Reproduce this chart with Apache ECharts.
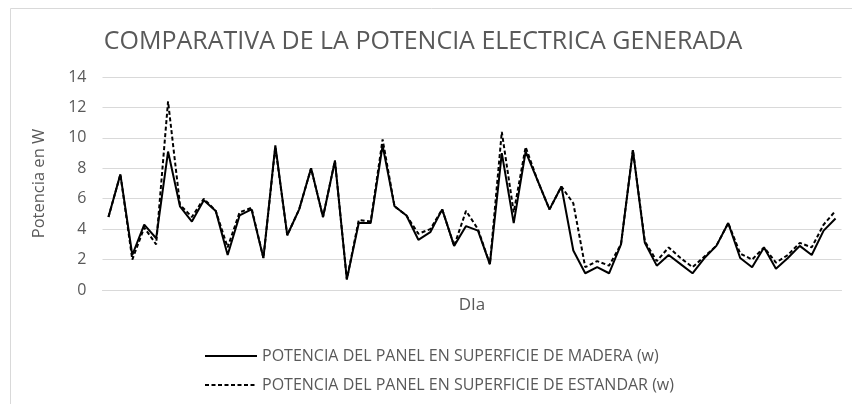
<!DOCTYPE html>
<html>
<head>
<meta charset="utf-8">
<script src="https://cdn.jsdelivr.net/npm/echarts@6/dist/echarts.min.js"></script>
<style>
  html, body { margin: 0; padding: 0; background: #fff; }
  #main { width: 852px; height: 404px; }
</style>
</head>
<body>
<div id="main"></div>
<script>
// dias 1..62
var dias = [];
for (var i = 1; i <= 62; i++) dias.push(String(i));

var madera = [4.8, 7.6, 2.3, 4.3, 3.4, 9.1, 5.5, 4.5, 5.9, 5.2,
  2.3, 4.9, 5.3, 2.1, 9.5, 3.6, 5.3, 8.0, 4.8, 8.5,
  0.7, 4.4, 4.4, 9.5, 5.5, 4.9, 3.3, 3.8, 5.3, 2.9,
  4.2, 3.9, 1.7, 9.0, 4.4, 9.1, 7.2, 5.3, 6.8, 2.6,
  1.1, 1.5, 1.1, 3.0, 9.2, 3.1, 1.6, 2.3, 1.7, 1.1,
  2.1, 2.9, 4.4, 2.1, 1.5, 2.8, 1.4, 2.1, 2.9, 2.3,
  3.9, 4.7];

var estandar = [4.8, 7.6, 2.0, 4.1, 3.0, 12.4, 5.6, 4.8, 6.0, 5.2,
  2.8, 5.1, 5.4, 2.1, 9.4, 3.6, 5.3, 8.0, 4.8, 8.5,
  0.7, 4.6, 4.5, 9.9, 5.5, 4.9, 3.7, 4.0, 5.3, 2.9,
  5.2, 4.0, 1.7, 10.4, 5.1, 9.4, 7.2, 5.3, 6.8, 5.7,
  1.5, 1.9, 1.6, 3.0, 9.2, 3.2, 1.9, 2.8, 2.1, 1.5,
  2.2, 2.9, 4.4, 2.4, 2.0, 2.8, 1.8, 2.3, 3.1, 2.8,
  4.3, 5.2];

var nombres = ['POTENCIA DEL PANEL EN SUPERFICIE DE MADERA (w)',
  'POTENCIA DEL PANEL EN SUPERFICIE DE ESTANDAR (w)'];

var fuente = 'Open Sans';
var gris = '#595959';

var myChart = echarts.init(document.getElementById('main'));

var option = {
  animation: false,
  textStyle: { fontFamily: fuente },
  title: {
    text: 'COMPARATIVA DE LA POTENCIA ELECTRICA GENERADA',
    left: 418,
    textAlign: 'center',
    top: 24,
    textStyle: { fontFamily: fuente, fontSize: 25, fontWeight: 'normal', color: gris }
  },
  graphic: [{
    type: 'rect',
    shape: { x: 10.5, y: 8.5, width: 900, height: 500 },
    style: { fill: 'none', stroke: '#d9d9d9', lineWidth: 1 },
    silent: true
  }],
  grid: { left: 102.5, right: 10.5, top: 77, bottom: 114 },
  legend: {
    orient: 'vertical',
    left: 199,
    top: 343,
    itemWidth: 52,
    itemHeight: 14,
    itemGap: 13,
    itemStyle: { opacity: 0 },
    textStyle: { fontFamily: fuente, fontSize: 16, color: gris },
    data: nombres
  },
  xAxis: {
    type: 'category',
    data: dias,
    boundaryGap: true,
    name: 'DIa',
    nameLocation: 'middle',
    nameGap: 7,
    nameTextStyle: { fontFamily: fuente, fontSize: 17, color: gris },
    axisLine: { show: true, lineStyle: { color: '#d9d9d9', width: 1 } },
    axisTick: { show: false },
    axisLabel: { show: false }
  },
  yAxis: {
    type: 'value',
    min: 0,
    max: 14,
    interval: 2,
    name: 'Potencia en W',
    nameLocation: 'middle',
    nameGap: 55,
    nameTextStyle: { fontFamily: fuente, fontSize: 16.5, color: gris },
    axisLine: { show: false },
    axisTick: { show: false },
    axisLabel: { margin: 16, fontFamily: fuente, fontSize: 16, color: gris },
    splitLine: { lineStyle: { color: '#d9d9d9', width: 1 } }
  },
  series: [
    {
      name: nombres[0],
      type: 'line',
      data: madera,
      symbol: 'none',
      lineStyle: { color: '#000', width: 2 },
      itemStyle: { color: '#000' }
    },
    {
      name: nombres[1],
      type: 'line',
      data: estandar,
      symbol: 'none',
      lineStyle: { color: '#000', width: 2, type: [4, 2.5] },
      itemStyle: { color: '#000' }
    }
  ]
};

option && myChart.setOption(option);
</script>
</body>
</html>
